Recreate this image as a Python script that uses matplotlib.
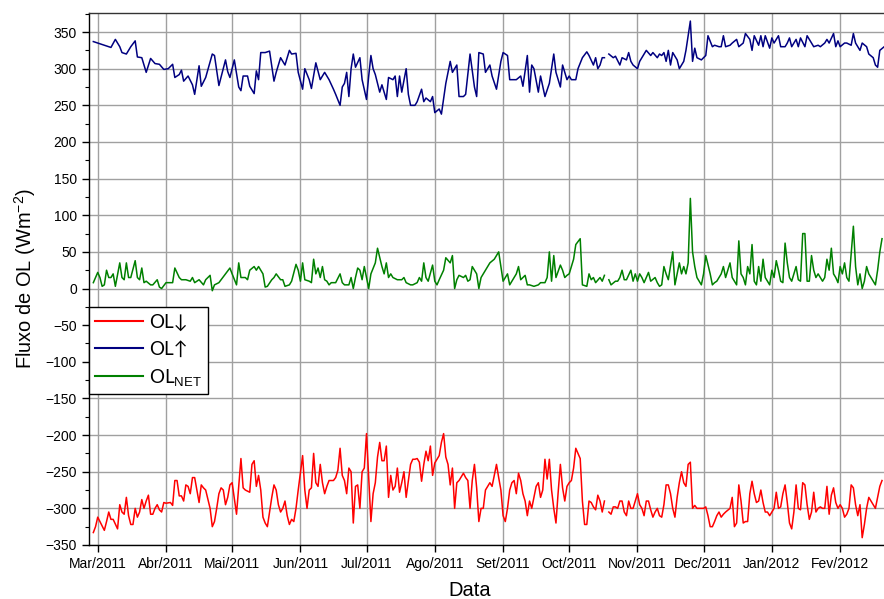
import numpy as np
import pandas as pd
import matplotlib
matplotlib.use("Agg")
import matplotlib.pyplot as plt
from matplotlib.ticker import MultipleLocator

nan = np.nan

# ── Data (days after 1 Mar 2011, daily longwave fluxes in W m-2) ───────────────
START = pd.Timestamp("2011-03-01")

up_days = [-2, 0, 3, 6, 8, 10, 11, 13, 15, 17, 18, 20, 22, 24, 26, 28, 30, 32, 34, 35,
           37, 38, 39, 41, 43, 44, 46, 47, 49, 52, 53, 55, 58, 59, 60, 62, 64, 65, 66, 68,
           69, 71, 72, 73, 74, 76, 78, 80, 81, 83, 85, 87, 88, 90, 91,
           93, 94, 96, 97, 99, 101, 103, 105, 107, 108, 110, 111, 112, 113, 114, 115, 116, 117, 119, 120,
           122, 123, 124, 125, 126, 128, 129, 131, 132, 134, 135, 136, 137, 138, 140, 141, 142, 144, 145, 147,
           148, 149, 151, 152, 153, 155, 156, 158, 160, 161, 163, 164, 166, 167, 169, 171, 172, 173, 175, 176,
           178, 179, 181, 183, 184, 186, 187, 189, 190, 192, 193, 195, 196, 197, 198, 200, 201, 203, 205, 206,
           207, 208, 210, 211, 213, 214, 215, 217, 218,
           220, 222, 223, 225, 226, 227, 228, 229, 230, 231, 232, 234, 235, 237, 238, 240, 241, 242, 243, 245,
           246, 248, 249, 251, 252, 254, 255, 256, 257, 258, 259, 260, 261, 263, 264, 266, 267, 269, 270, 271,
           272, 274, 276, 277, 279, 280, 282, 283, 284, 285, 287, 288, 290, 291, 293, 294, 296, 297, 298, 300,
           301, 302, 303, 305, 306, 307, 309, 310, 312, 313, 314, 315, 317, 318, 319, 321, 322, 324, 325, 327,
           328, 330, 331, 332, 334, 335, 336, 337, 339, 340, 342, 343, 344, 346, 347, 349, 350, 352, 353, 354,
           355, 357]
up_vals = [337, 335, 332, 329, 340, 330, 322, 320, 330, 338, 316, 315, 295, 314, 307, 306, 299, 300, 306, 288,
           292, 298, 283, 290, 278, 265, 304, 276, 288, 320, 318, 277, 312, 296, 288, 312, 275, 270, 290, 290,
           276, 266, 297, 285, 322, 322, 324, 283, 295, 315, 305, 325, 320, 321, 295,
           272, 300, 285, 273, 308, 285, 295, 285, 272, 265, 250, 275, 280, 295, 262, 300, 320, 302, 315, 285,
           258, 290, 318, 300, 292, 268, 278, 258, 288, 285, 290, 262, 290, 268, 300, 265, 250, 250, 255, 272,
           255, 260, 255, 262, 240, 245, 238, 280, 310, 295, 305, 262, 262, 265, 320, 275, 262, 322, 320, 295,
           305, 290, 272, 310, 322, 318, 285, 285, 285, 290, 276, 318, 268, 305, 300, 268, 290, 262, 280, 300,
           320, 295, 275, 305, 285, 290, 285, 285, 300,
           315, 323, 318, 305, 315, 300, 305, 315, 315, nan, 320, 315, 317, 305, 315, 312, 322, 310, 305, 300,
           310, 320, 325, 318, 322, 315, 320, 318, 322, 310, 325, 305, 322, 312, 300, 310, 325, 365, 310, 328,
           315, 312, 318, 345, 330, 332, 330, 330, 345, 330, 332, 335, 340, 330, 335, 348, 340, 325, 345, 332,
           345, 330, 345, 328, 342, 335, 345, 330, 330, 335, 342, 330, 340, 330, 342, 330, 345, 335, 330, 332,
           330, 335, 340, 335, 348, 330, 338, 330, 335, 335, 332, 348, 335, 325, 335, 330, 320, 315, 305, 302,
           325, 330]

net_days = [-2, 0, 1, 2, 3, 4, 5, 6, 7, 8, 10, 11, 12, 13, 14, 15, 17, 18, 19, 20,
            21, 22, 24, 25, 27, 28, 29, 31, 32, 34, 35, 37, 38, 40, 42, 43, 44, 46, 48, 49,
            51, 52, 53, 55, 56, 58, 60, 61, 63, 64, 65, 67, 68, 69, 71, 72, 73, 75, 76, 77,
            79, 80, 81, 83, 84, 85, 87, 88, 90,
            91, 92, 93, 94, 96, 97, 98, 99, 100, 101, 102, 103, 104, 105, 106, 108, 110, 111, 112, 114,
            115, 116, 117, 118, 119, 120, 121, 122, 123, 124, 126, 127, 129, 130, 131, 132, 133, 134, 136, 138,
            139, 140, 142, 143, 145, 146, 147, 148, 149, 150, 152, 153, 154, 155, 157, 158, 160, 161, 162, 163,
            164, 166, 167, 168, 169, 170, 172, 173, 174, 175, 177, 178, 180, 182, 183, 184, 186, 187, 189, 190,
            191, 192, 194, 195, 196, 198, 200, 201, 203, 204, 205, 206, 207, 208, 210, 211, 212, 213, 214, 216,
            217,
            219, 220, 222, 223, 224, 225, 226, 228, 229, 230, 231, 232, 233, 235, 236, 237, 238, 239, 240, 242,
            243, 244, 245, 246, 247, 248, 249, 250, 251, 253, 254, 255, 256, 257, 258, 259, 261, 262, 263, 264,
            265, 266, 267, 268, 269, 270, 271, 272, 273, 274, 275, 276, 278, 279, 280, 281, 282, 283, 284, 285,
            286, 287, 288, 289, 290, 291, 292, 293, 294, 295, 296, 297, 298, 299, 300, 301, 302, 303, 304, 305,
            306, 307, 308, 309, 310, 311, 312, 313, 314, 315, 317, 318, 319, 320, 321, 322, 323, 324, 325, 326,
            327, 329, 330, 331, 332, 333, 334, 335, 336, 337, 338, 339, 340, 341, 343, 344, 345, 346, 347, 348,
            349, 350, 352, 353, 354, 355, 356]
net_vals = [8, 22, 15, 3, 5, 25, 15, 15, 20, 3, 35, 15, 12, 35, 15, 15, 38, 15, 12, 28,
            8, 10, 5, 5, 12, 2, 0, 8, 8, 8, 28, 15, 12, 12, 10, 15, 8, 12, 5, 12,
            18, -3, 5, 8, 12, 20, 28, 20, 5, 35, 15, 15, 12, 25, 30, 25, 30, 20, 2, 3,
            12, 15, 20, 12, 12, 3, 5, 10, 33,
            25, 10, 35, 12, 10, 8, 40, 20, 28, 15, 30, 12, 10, 5, 8, 8, 20, 8, 5, 5,
            15, 0, 15, 28, 25, 12, 30, 15, 0, 20, 35, 55, 30, 20, 35, 15, 20, 15, 12, 12,
            15, 8, 5, 5, 8, 15, 10, 35, 15, 10, 32, 10, 5, 12, 25, 42, 35, 45, 0, 12,
            18, 15, 18, 10, 12, 30, 20, 0, 15, 20, 30, 35, 40, 50, 30, 10, 20, 5, 15, 20,
            30, 12, 18, 5, 5, 3, 5, 8, 8, 15, 50, 10, 45, 15, 32, 25, 15, 18, 20, 40,
            60,
            68, 5, 3, 20, 12, 15, 8, 15, 10, 18, nan, 12, 5, 10, 10, 15, 25, 12, 12, 25,
            10, 20, 10, 20, 15, 8, 15, 22, 10, 15, 8, 3, 5, 30, 20, 12, 50, 5, 20, 35,
            20, 30, 20, 35, 123, 50, 30, 15, 10, 5, 20, 45, 20, 5, 8, 10, 15, 20, 30, 15,
            25, 35, 15, 10, 5, 65, 20, 15, 5, 30, 20, 60, 10, 5, 30, 10, 40, 15, 10, 5,
            25, 15, 38, 25, 10, 8, 62, 35, 15, 10, 30, 12, 10, 75, 75, 10, 10, 45, 25, 15,
            20, 10, 15, 40, 25, 55, 20, 15, 8, 30, 20, 35, 15, 10, 85, 30, 5, 20, 0, 10,
            30, 20, 10, 5, 25, 50, 68]

down_days = [-2, -1, 0, 1, 3, 4, 5, 6, 7, 9, 10, 11, 12, 13, 14, 15, 16, 17, 18, 19,
             20, 21, 22, 23, 24, 25, 26, 27, 28, 29, 30, 31, 33, 34, 35, 36, 37, 38, 39, 40,
             41, 42, 43, 44, 46, 47, 48, 49, 51, 52, 53, 54, 55, 56, 57, 58, 59, 60, 61, 63,
             64, 65, 66, 67, 69, 70, 71, 72, 73, 74, 75, 76, 77, 78, 79, 80, 81, 82, 83, 84,
             85, 86, 87, 88, 89, 90, 91,
             93, 94, 95, 96, 97, 98, 99, 100, 101, 102, 103, 104, 105, 107, 108, 109, 110, 111, 112, 113,
             114, 115, 116, 117, 118, 119, 120, 121, 122, 124, 125, 126, 127, 128, 129, 130, 131, 132, 133, 134,
             135, 136, 137, 138, 139, 140, 141, 142, 143, 144, 145, 146, 147, 148, 149, 150, 151, 152, 153, 155,
             156, 157, 158, 159, 160, 161, 162, 163, 164, 166, 167, 168, 169, 170, 171, 172, 173, 174, 175, 176,
             178, 179, 181, 182, 183, 184, 185, 186, 187, 188, 189, 190, 191, 192, 193, 194, 195, 196, 197, 199,
             200, 201, 202, 203, 204, 205, 206, 207, 208, 209, 210, 211, 212, 213, 214, 215, 216, 217, 218, 219,
             220, 221, 222,
             223, 224, 225, 226, 227, 228, 229, 230, 231, 232, 233, 234, 235, 236, 237, 238, 239, 240, 241, 242,
             243, 245, 246, 247, 248, 249, 250, 251, 252, 253, 254, 255, 256, 257, 258, 259, 260, 261, 262, 263,
             264, 265, 266, 267, 268, 269, 270, 271, 272, 274, 275, 276, 277, 278, 279, 280, 281, 282, 283, 284,
             285, 287, 288, 289, 290, 291, 292, 293, 294, 295, 296, 297, 298, 299, 300, 301, 302, 303, 304, 305,
             306, 307, 308, 309, 310, 311, 312, 313, 314, 315, 316, 317, 318, 319, 320, 321, 322, 323, 324, 325,
             326, 327, 328, 329, 330, 331, 332, 333, 334, 335, 336, 337, 338, 339, 340, 341, 342, 343, 344, 345,
             346, 347, 348, 349, 350, 351, 352, 353, 354, 355, 356]
down_vals = [-333, -325, -312, -318, -330, -318, -305, -315, -315, -328, -295, -305, -308, -285, -310, -322, -322, -300, -312, -305,
             -288, -300, -290, -282, -308, -308, -300, -295, -302, -305, -292, -293, -292, -296, -262, -262, -283, -283, -290, -268,
             -270, -280, -258, -258, -292, -268, -272, -275, -300, -325, -318, -300, -280, -272, -275, -295, -285, -268, -265, -308,
             -270, -232, -272, -275, -278, -240, -235, -270, -255, -275, -312, -320, -325, -305, -285, -268, -275, -295, -305, -300,
             -290, -310, -322, -315, -318, -300, -275,
             -228, -275, -300, -275, -272, -225, -265, -270, -240, -265, -280, -270, -262, -262, -258, -248, -218, -255, -262, -280,
             -245, -250, -320, -270, -268, -300, -250, -245, -198, -318, -280, -265, -230, -210, -235, -235, -215, -285, -255, -275,
             -270, -245, -278, -265, -250, -285, -262, -240, -233, -233, -232, -237, -263, -240, -222, -235, -215, -255, -238, -228,
             -210, -198, -230, -240, -268, -245, -300, -265, -262, -252, -258, -262, -300, -262, -240, -272, -318, -300, -300, -275,
             -265, -270, -240, -258, -275, -310, -318, -300, -275, -265, -262, -280, -252, -262, -280, -290, -310, -290, -300, -270,
             -265, -285, -275, -233, -260, -233, -275, -300, -320, -278, -240, -272, -290, -270, -265, -262, -245, -218, -225, -232,
             -290, -322, -322,
             -290, -292, -298, -302, -282, -290, -305, -290, nan, -305, -308, -298, -298, -300, -290, -290, -305, -310, -290, -300,
             -300, -280, -295, -300, -310, -290, -290, -302, -312, -305, -300, -310, -312, -295, -268, -268, -280, -300, -312, -285,
             -265, -250, -265, -270, -240, -237, -300, -296, -300, -300, -300, -298, -310, -325, -325, -318, -310, -305, -312, -308,
             -305, -300, -285, -325, -320, -268, -290, -320, -318, -318, -280, -263, -280, -292, -290, -275, -292, -305, -305, -310,
             -305, -300, -278, -300, -298, -280, -268, -292, -320, -328, -305, -268, -300, -302, -265, -268, -295, -315, -305, -278,
             -305, -300, -298, -300, -300, -270, -308, -282, -272, -292, -300, -295, -300, -312, -308, -300, -268, -272, -295, -310,
             -295, -340, -322, -300, -285, -290, -295, -300, -285, -270, -262]

MONTH_LABELS = ["Mar/2011", "Abr/2011", "Mai/2011", "Jun/2011", "Jul/2011", "Ago/2011",
                "Set/2011", "Oct/2011", "Nov/2011", "Dec/2011", "Jan/2012", "Fev/2012"]


def to_dates(days):
    return START + pd.to_timedelta(days, unit="D")


# ── Style ─────────────────────────────────────────────────────────────────────
plt.rcParams["font.family"] = ["Liberation Sans", "DejaVu Sans"]
plt.rcParams["mathtext.fontset"] = "custom"
plt.rcParams["mathtext.rm"] = "Liberation Sans"
plt.rcParams["mathtext.it"] = "Liberation Sans:italic"

RED, BLUE, GREEN = "#ff0000", "#000080", "#008000"
GRID = "#a0a0a0"

fig = plt.figure(figsize=(8.84, 5.99), dpi=100, facecolor="white")
ax = fig.add_axes([88.7 / 884, 54 / 599, (884 - 88.7) / 884, 532 / 599])

ax.plot(to_dates(down_days), down_vals, color=RED, lw=1.1, label="OL\u2193")
ax.plot(to_dates(up_days), up_vals, color=BLUE, lw=1.1, label="OL\u2191")
ax.plot(to_dates(net_days), net_vals, color=GREEN, lw=1.1, label=r"OL$_{\mathrm{NET}}$")

# ── Axes ──────────────────────────────────────────────────────────────────────
ax.set_xlim(START + pd.Timedelta(days=-4.1), START + pd.Timedelta(days=356.9))
ax.set_ylim(-350, 376)

ticks = pd.date_range("2011-03-01", "2012-02-01", freq="MS")
ax.set_xticks(ticks)
ax.set_xticklabels(MONTH_LABELS)
ax.yaxis.set_major_locator(MultipleLocator(50))
ax.yaxis.set_minor_locator(MultipleLocator(25))

ax.tick_params(axis="both", which="major", direction="out", length=5,
               width=1, labelsize=10, colors="black")
ax.tick_params(axis="y", which="minor", direction="out", length=3, width=0.8)

ax.grid(True, which="major", color=GRID, lw=1.0)
ax.set_axisbelow(True)
ax.spines["right"].set_visible(False)
for s in ("left", "bottom", "top"):
    ax.spines[s].set_linewidth(1.0)
ax.spines["top"].set_color("#333333")

ax.set_ylabel("Fluxo de OL (Wm$^{-2}$)", fontsize=14.4, labelpad=5)
ax.set_xlabel("Data", fontsize=14.5)
ax.xaxis.set_label_coords((470 - 88.7) / (884 - 88.7), -0.067)

# Lato has tall, thin arrows like the original legend
leg = ax.legend(loc="upper left", bbox_to_anchor=(0, 0.447),
                prop={"family": ["Lato", "DejaVu Sans"], "size": 13.5},
                frameon=True, fancybox=False, edgecolor="black", framealpha=1,
                borderaxespad=0, handlelength=2.55, labelspacing=0.5,
                borderpad=0.35, handletextpad=0.3)
leg.get_frame().set_linewidth(1.0)
for line in leg.get_lines():
    line.set_linewidth(1.5)

fig.savefig("out.png", dpi=100, facecolor="white")
